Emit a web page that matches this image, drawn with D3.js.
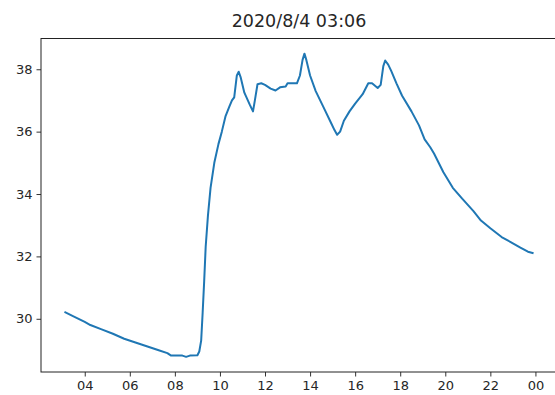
<!DOCTYPE html>
<html>
<head>
<meta charset="utf-8">
<script src="https://cdn.jsdelivr.net/npm/d3@7"></script>
<style>
  body { margin: 0; background: #fff; }
  text { font-family: "DejaVu Sans", sans-serif; fill: #262626; }
</style>
</head>
<body>
<svg id="chart"></svg>
<script>
// reading times on 2020/8/4 (HH:MM) and temperature values
const times = ["03:06","03:30","04:00","04:15","04:45","05:15","05:45","06:15","06:45","07:15",
  "07:40","07:50","08:20","08:30","08:40","09:00","09:05","09:10","09:14","09:18",
  "09:22","09:28","09:35","09:45","09:56","10:05","10:15","10:25","10:32","10:38",
  "10:45","10:50","10:55","11:05","11:20","11:28","11:33","11:40","11:50","12:00",
  "12:15","12:28","12:40","12:55","13:00","13:25","13:33","13:40","13:45","13:50",
  "14:00","14:15","14:35","14:55","15:05","15:12","15:20","15:30","15:45","16:00",
  "16:20","16:35","16:45","17:00","17:08","17:15","17:20","17:28","17:36","17:50",
  "18:05","18:30","18:50","19:05","19:20","19:30","19:55","20:20","20:45","21:15",
  "21:35","22:00","22:30","23:00","23:20","23:40","23:55"]

const temps = [30.22,30.08,29.90,29.80,29.66,29.52,29.36,29.24,29.12,29.00,
  28.90,28.82,28.82,28.78,28.82,28.83,28.95,29.3,30.2,31.2,
  32.3,33.3,34.2,35.0,35.6,36.0,36.5,36.8,37.0,37.1,
  37.8,37.92,37.75,37.25,36.85,36.65,37.0,37.52,37.55,37.5,
  37.38,37.32,37.42,37.45,37.55,37.55,37.8,38.3,38.5,38.3,
  37.8,37.3,36.8,36.3,36.05,35.9,36.0,36.35,36.65,36.9,
  37.2,37.55,37.55,37.4,37.5,38.1,38.28,38.15,37.95,37.55,
  37.15,36.65,36.2,35.75,35.5,35.3,34.7,34.2,33.85,33.45,
  33.15,32.9,32.62,32.42,32.28,32.15,32.1]

const yTicks = [30, 32, 34, 36, 38]
const title = "2020/8/4 03:06"

const width = 555
const height = 395
const mLeft = 41, mRight = 557, mTop = 38.5, mBottom = 372

const parse = d3.timeParse("%Y-%m-%d %H:%M")
const data = times.map((t, i) => ({date: parse("2020-08-04 " + t), value: temps[i]}))

// 5% padding like matplotlib autoscale
function padded(ext) {
    const p = (ext[1] - ext[0]) * 0.05
    return [ext[0] - p, ext[1] + p]
}
const xExt = padded(d3.extent(data, d => +d.date))

const x = d3.scaleTime()
    .domain([new Date(xExt[0]), new Date(xExt[1])])
    .range([mLeft, mRight])

const y = d3.scaleLinear()
    .domain(padded(d3.extent(temps)))
    .range([mBottom, mTop])

const svg = d3.select("#chart")
    .attr("width", width)
    .attr("height", height)

svg.append("text")
    .attr("x", (mLeft + mRight) / 2)
    .attr("y", 27)
    .attr("text-anchor", "middle")
    .style("font-size", "17.5px")
    .text(title)

const xAxis = svg.append("g")
    .attr("transform", `translate(0,${mBottom})`)
    .call(d3.axisBottom(x)
        .ticks(d3.timeHour.every(2))
        .tickFormat(d3.timeFormat("%H"))
        .tickSizeOuter(0)
        .tickSize(4.5)
        .tickPadding(4))

const yAxis = svg.append("g")
    .attr("transform", `translate(${mLeft},0)`)
    .call(d3.axisLeft(y)
        .tickValues(yTicks)
        .tickFormat(d3.format("d"))
        .tickSizeOuter(0)
        .tickSize(4.5)
        .tickPadding(4))

for (const g of [xAxis, yAxis]) {
    g.select(".domain").remove()
    g.selectAll("line").attr("stroke", "#333").attr("stroke-width", 1)
    g.selectAll("text").style("font-size", "13px").attr("fill", "#262626")
}

// frame
svg.append("rect")
    .attr("x", mLeft)
    .attr("y", mTop)
    .attr("width", mRight - mLeft)
    .attr("height", mBottom - mTop)
    .attr("fill", "none")
    .attr("stroke", "#222")
    .attr("stroke-width", 1)

const line = d3.line()
    .x(d => x(d.date))
    .y(d => y(d.value))

svg.append("path")
    .datum(data)
    .attr("fill", "none")
    .attr("stroke", "#1f77b4")
    .attr("stroke-width", 2)
    .attr("stroke-linejoin", "round")
    .attr("d", line)
</script>
</body>
</html>
